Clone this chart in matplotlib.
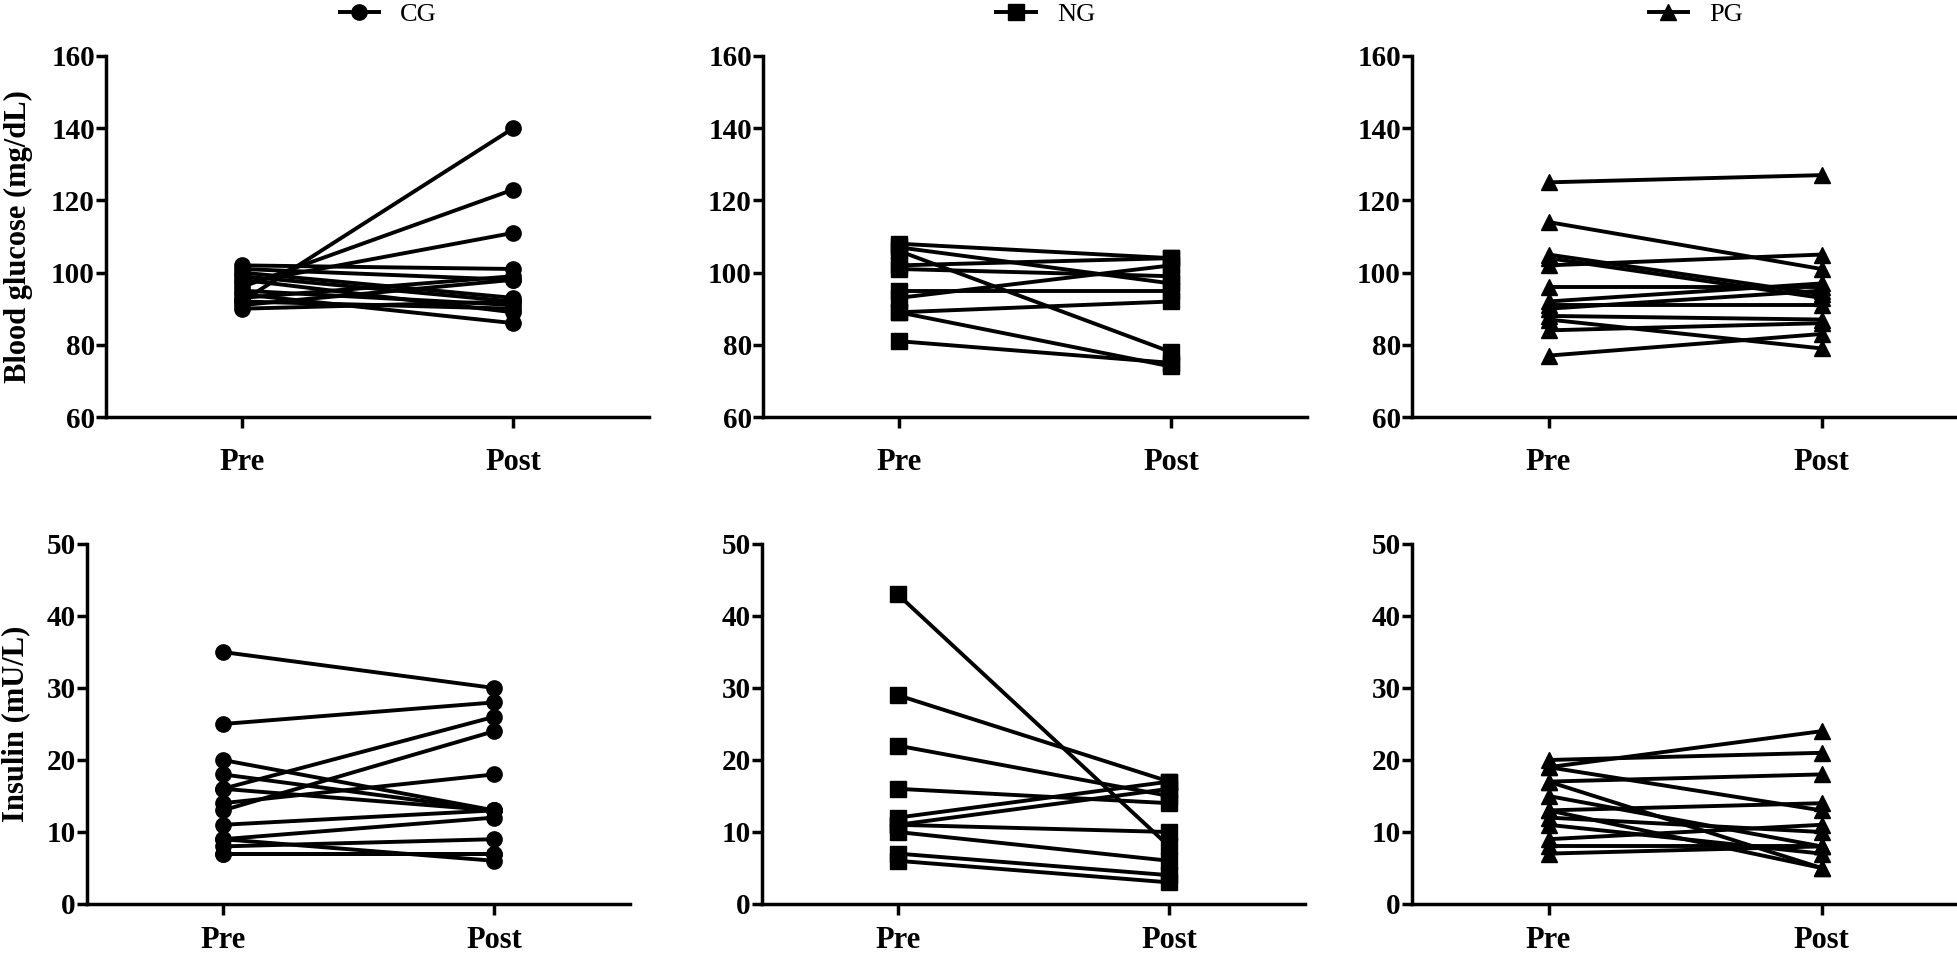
import matplotlib.pyplot as plt

plt.rcParams['font.family'] = ['Liberation Serif', 'DejaVu Serif']

groups = ['CG', 'NG', 'PG']
markers = ['o', 's', '^']
times = ['Pre', 'Post']

# blood glucose (mg/dL), one entry per subject
cg_glucose_pre = [92, 96, 97, 102, 101, 100, 99, 98, 95, 93, 91, 92, 94, 90]
cg_glucose_post = [140, 123, 111, 101, 98, 93, 92, 89, 91, 99, 98, 90, 86, 92]
ng_glucose_pre = [108, 107, 106, 101, 102, 95, 93, 89, 89, 81]
ng_glucose_post = [104, 97, 78, 99, 104, 95, 102, 92, 74, 75]
pg_glucose_pre = [125, 114, 105, 104, 102, 96, 92, 91, 90, 88, 87, 84, 77]
pg_glucose_post = [127, 101, 94, 93, 105, 96, 97, 91, 95, 87, 79, 86, 83]

# insulin (mU/L)
cg_insulin_pre = [35, 25, 20, 18, 16, 16, 14, 13, 11, 9, 9, 8, 7, 7]
cg_insulin_post = [30, 28, 13, 13, 13, 26, 18, 24, 13, 12, 6, 9, 7, 7]
ng_insulin_pre = [43, 29, 22, 16, 12, 11, 11, 10, 7, 6]
ng_insulin_post = [8, 17, 15, 14, 17, 16, 10, 6, 4, 3]
pg_insulin_pre = [20, 19, 19, 17, 17, 15, 13, 13, 12, 11, 9, 8, 7]
pg_insulin_post = [21, 24, 13, 18, 5, 8, 14, 5, 10, 7, 11, 8, 8]

glucose = [(cg_glucose_pre, cg_glucose_post),
           (ng_glucose_pre, ng_glucose_post),
           (pg_glucose_pre, pg_glucose_post)]
insulin = [(cg_insulin_pre, cg_insulin_post),
           (ng_insulin_pre, ng_insulin_post),
           (pg_insulin_pre, pg_insulin_post)]

fig = plt.figure(figsize=(19.58, 9.60), dpi=100)

# axes boxes in pixels (left, right, top, bottom) of the 1958x960 picture
W, H = 1958, 960
top_boxes = [(106, 649, 56, 417), (763, 1307, 56, 417), (1412, 1958, 56, 417)]
bot_boxes = [(87, 630, 544, 904), (762, 1305, 544, 904), (1412, 1958, 544, 904)]


def make_axes(box):
    l, r, t, b = box
    return fig.add_axes([l / W, 1 - b / H, (r - l) / W, (b - t) / H])


def style(ax, ylim, yticks, xpad):
    ax.set_xlim(-0.5, 1.5)
    ax.set_ylim(*ylim)
    ax.set_yticks(yticks)
    ax.set_xticks([0, 1])
    ax.set_xticklabels(times)
    for s in ['top', 'right']:
        ax.spines[s].set_visible(False)
    for s in ['left', 'bottom']:
        ax.spines[s].set_linewidth(2.5)
    ax.tick_params(axis='y', length=7, width=2.5, pad=1, labelsize=21)
    ax.tick_params(axis='x', length=8, width=2.5, pad=xpad, labelsize=22)
    for lab in ax.get_xticklabels() + ax.get_yticklabels():
        lab.set_fontweight('bold')


for i in range(3):
    ax = make_axes(top_boxes[i])
    pre, post = glucose[i]
    for j in range(len(pre)):
        ax.plot([0, 1], [pre[j], post[j]], color='black', lw=2.8,
                marker=markers[i], ms=11, label=groups[i] if j == 0 else None,
                clip_on=False)
    style(ax, (60, 160), range(60, 161, 20), 14)
    ax.legend(loc='center', bbox_to_anchor=(0.52, 1.115), frameon=False,
              fontsize=19, handlelength=1.5, handletextpad=0.8)
    if i == 0:
        ax.set_ylabel('Blood glucose (mg/dL)', fontsize=22, fontweight='bold')
        ax.yaxis.set_label_coords(-0.135, 0.5)

    ax = make_axes(bot_boxes[i])
    pre, post = insulin[i]
    for j in range(len(pre)):
        ax.plot([0, 1], [pre[j], post[j]], color='black', lw=2.8,
                marker=markers[i], ms=11, clip_on=False)
    style(ax, (0, 50), range(0, 51, 10), 8)
    if i == 0:
        ax.set_ylabel('Insulin (mU/L)', fontsize=22, fontweight='bold')
        ax.yaxis.set_label_coords(-0.105, 0.5)

plt.savefig('out.png', dpi=100)
